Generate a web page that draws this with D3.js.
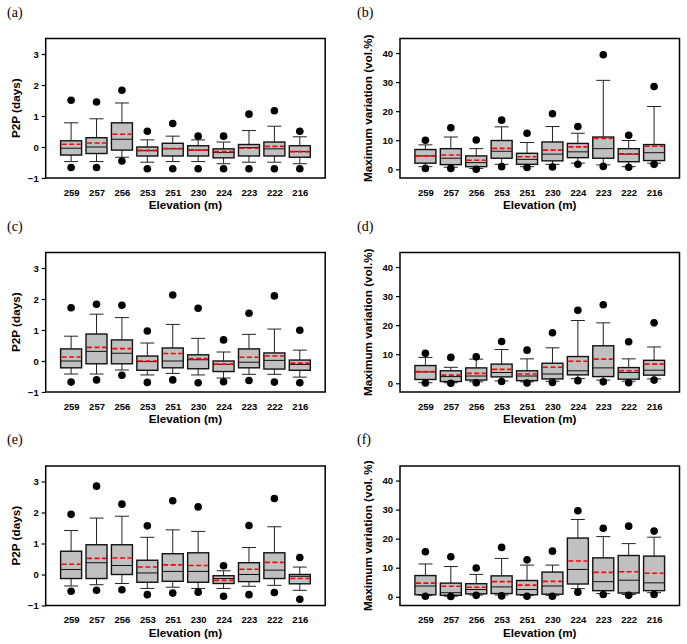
<!DOCTYPE html>
<html>
<head>
<meta charset="utf-8">
<script src="https://cdn.jsdelivr.net/npm/d3@7"></script>
<style>
  body { margin: 0; background: #fff; }
  svg text { font-family: "Liberation Sans", Arial, sans-serif; }
</style>
</head>
<body>
<script>
// categories (elevation, m)
var elevations = ["259", "257", "256", "253", "251", "230", "224", "223", "222", "216"];

// each row: [p5, p10, q1, median, q3, p90, p95, mean]
var p2pA = [
  [-0.66, -0.47, -0.26, -0.04, 0.20, 0.78, 1.51, 0.09],
  [-0.66, -0.47, -0.21, 0.00, 0.30, 0.91, 1.45, 0.13],
  [-0.45, -0.33, -0.10, 0.25, 0.78, 1.42, 1.83, 0.41],
  [-0.70, -0.49, -0.29, -0.12, 0.00, 0.23, 0.51, -0.11],
  [-0.70, -0.47, -0.29, -0.06, 0.12, 0.35, 0.76, -0.05],
  [-0.70, -0.47, -0.29, -0.10, 0.04, 0.23, 0.35, -0.10],
  [-0.70, -0.54, -0.35, -0.18, -0.06, 0.16, 0.35, -0.15],
  [-0.70, -0.49, -0.29, -0.02, 0.08, 0.53, 1.06, -0.04],
  [-0.70, -0.49, -0.29, -0.06, 0.16, 0.67, 1.17, 0.02],
  [-0.70, -0.54, -0.33, -0.15, 0.04, 0.33, 0.51, -0.15]
];
var maxVarB = [
  [0.3, 0.9, 2.1, 4.6, 6.8, 8.4, 10.0, 4.6],
  [0.3, 0.7, 1.6, 3.8, 7.1, 11.1, 14.3, 4.9],
  [0.0, 0.3, 0.9, 2.3, 4.6, 7.1, 10.1, 3.1],
  [0.9, 1.7, 3.8, 6.2, 9.9, 14.6, 16.9, 7.2],
  [0.6, 0.9, 1.7, 3.4, 5.5, 9.2, 12.4, 4.3],
  [0.8, 1.7, 2.9, 5.2, 9.4, 14.7, 19.1, 6.6],
  [1.7, 2.1, 4.0, 6.0, 8.9, 12.4, 14.7, 7.7],
  [1.0, 1.5, 3.8, 7.1, 11.1, 30.6, 39.4, 10.6],
  [0.7, 0.9, 2.6, 5.2, 7.1, 9.9, 11.7, 5.3],
  [1.7, 2.1, 3.0, 5.7, 8.5, 21.6, 28.5, 7.9]
];
var p2pC = [
  [-0.68, -0.42, -0.22, 0.00, 0.39, 0.80, 1.72, 0.13],
  [-0.61, -0.42, -0.09, 0.31, 0.87, 1.51, 1.83, 0.44],
  [-0.46, -0.29, -0.09, 0.25, 0.68, 1.40, 1.80, 0.40],
  [-0.69, -0.45, -0.30, -0.02, 0.16, 0.58, 0.97, 0.00],
  [-0.61, -0.40, -0.22, 0.00, 0.42, 1.18, 2.13, 0.24],
  [-0.70, -0.45, -0.25, 0.04, 0.20, 0.73, 1.70, 0.08],
  [-0.67, -0.55, -0.34, -0.11, 0.00, 0.29, 0.68, -0.10],
  [-0.63, -0.43, -0.22, -0.04, 0.39, 0.86, 1.54, 0.12],
  [-0.68, -0.43, -0.26, 0.02, 0.26, 1.03, 2.10, 0.16],
  [-0.70, -0.52, -0.30, -0.11, 0.03, 0.35, 0.99, -0.07]
];
var maxVarD = [
  [0.1, 0.2, 1.3, 3.9, 6.1, 8.9, 10.3, 4.0],
  [0.0, 0.2, 0.6, 2.3, 4.3, 5.5, 8.9, 2.8],
  [0.2, 0.5, 1.1, 2.5, 5.3, 8.3, 9.1, 3.4],
  [0.6, 0.8, 2.2, 3.7, 6.6, 11.6, 14.4, 4.8],
  [0.1, 0.5, 0.9, 2.5, 4.3, 8.4, 11.4, 3.2],
  [0.3, 0.7, 1.5, 3.2, 6.9, 12.2, 17.4, 5.5],
  [0.9, 1.6, 2.9, 4.3, 9.2, 21.6, 25.1, 7.6],
  [0.5, 1.1, 2.3, 5.3, 12.9, 20.8, 27.0, 8.3],
  [0.2, 0.7, 1.4, 3.7, 5.4, 8.4, 14.3, 4.3],
  [1.1, 1.5, 2.8, 4.5, 7.9, 12.5, 20.8, 6.6]
];
var p2pE = [
  [-0.54, -0.37, -0.13, 0.16, 0.75, 1.42, 1.94, 0.33],
  [-0.51, -0.33, -0.13, 0.38, 0.96, 1.82, 2.85, 0.52],
  [-0.49, -0.29, 0.00, 0.29, 0.96, 1.88, 2.27, 0.53],
  [-0.65, -0.45, -0.25, 0.05, 0.46, 1.20, 1.57, 0.24],
  [-0.60, -0.41, -0.22, 0.10, 0.67, 1.44, 2.38, 0.31],
  [-0.57, -0.45, -0.25, 0.10, 0.70, 1.39, 2.18, 0.29],
  [-0.70, -0.45, -0.29, -0.13, -0.04, 0.12, 0.28, -0.19],
  [-0.65, -0.38, -0.23, 0.00, 0.38, 0.87, 1.58, 0.17],
  [-0.58, -0.35, -0.13, 0.14, 0.70, 1.54, 2.45, 0.39],
  [-0.80, -0.51, -0.30, -0.06, 0.00, 0.24, 0.55, -0.13]
];
var maxVarF = [
  [0.2, 0.5, 0.7, 3.7, 7.3, 11.3, 15.5, 4.7],
  [0.1, 0.2, 0.5, 1.4, 4.7, 10.4, 13.8, 3.6],
  [0.5, 0.6, 1.0, 2.5, 4.5, 7.7, 9.9, 3.3],
  [0.3, 0.6, 1.1, 3.4, 7.2, 13.2, 17.0, 5.2],
  [0.2, 0.5, 0.7, 2.5, 5.6, 10.9, 12.7, 4.0],
  [0.2, 0.5, 0.9, 3.7, 8.5, 10.9, 15.7, 5.3],
  [1.6, 2.8, 4.4, 9.4, 20.2, 26.6, 29.6, 12.3],
  [0.8, 1.1, 2.1, 5.2, 13.4, 20.7, 23.6, 8.4],
  [0.5, 0.8, 1.3, 5.7, 14.2, 18.3, 24.3, 8.6],
  [0.8, 1.4, 2.1, 4.8, 14.0, 20.5, 22.6, 8.1]
];

var p2pTicks = [-1, 0, 1, 2, 3];
var maxVarTicks = [0, 10, 20, 30, 40];

var W = 687, H = 644;
var svg = d3.select("body").append("svg")
    .attr("width", W)
    .attr("height", H);

var colX = [45.7, 400],
    rowY = [38.5, 252.5, 466],
    pw = 279.5,
    ph = 139.5;

var panels = [
  {tag: "(a)", data: p2pA, col: 0, row: 0, kind: "p2p"},
  {tag: "(b)", data: maxVarB, col: 1, row: 0, kind: "mv", ylab: "Maximum variation (vol.%)"},
  {tag: "(c)", data: p2pC, col: 0, row: 1, kind: "p2p"},
  {tag: "(d)", data: maxVarD, col: 1, row: 1, kind: "mv", ylab: "Maximum variation (vol.%)"},
  {tag: "(e)", data: p2pE, col: 0, row: 2, kind: "p2p"},
  {tag: "(f)", data: maxVarF, col: 1, row: 2, kind: "mv", ylab: "Maximum variation (vol. %)"}
];

panels.forEach(function(p) {
  var x0 = colX[p.col], y0 = rowY[p.row];
  var g = svg.append("g").attr("transform", "translate(" + x0 + "," + y0 + ")");

  var x = d3.scalePoint().domain(elevations).range([0, pw]).padding(1);
  var y = d3.scaleLinear().range([ph, 0]);
  var ticks;
  if (p.kind === "p2p") { y.domain([-1, 3.5]); ticks = p2pTicks; }
  else { y.domain([-3, 45]); ticks = maxVarTicks; }

  var boxW = 21, capW = 14;

  // panel tag
  svg.append("text")
      .attr("x", p.col === 0 ? 7 : 357)
      .attr("y", y0 - 22)
      .style("font-family", "'Liberation Serif', 'Times New Roman', serif")
      .style("font-size", "14px")
      .text(p.tag);

  var items = g.selectAll(".item").data(p.data).enter().append("g")
      .attr("transform", function(d, i) { return "translate(" + x(elevations[i]) + ",0)"; });

  // whiskers
  items.append("line").attr("x1", 0).attr("x2", 0)
      .attr("y1", function(d) { return y(d[4]); }).attr("y2", function(d) { return y(d[5]); })
      .attr("stroke", "#222").attr("stroke-width", 1);
  items.append("line").attr("x1", 0).attr("x2", 0)
      .attr("y1", function(d) { return y(d[2]); }).attr("y2", function(d) { return y(d[1]); })
      .attr("stroke", "#222").attr("stroke-width", 1);
  items.append("line").attr("x1", -capW / 2).attr("x2", capW / 2)
      .attr("y1", function(d) { return y(d[5]); }).attr("y2", function(d) { return y(d[5]); })
      .attr("stroke", "#222").attr("stroke-width", 1);
  items.append("line").attr("x1", -capW / 2).attr("x2", capW / 2)
      .attr("y1", function(d) { return y(d[1]); }).attr("y2", function(d) { return y(d[1]); })
      .attr("stroke", "#222").attr("stroke-width", 1);

  // box
  items.append("rect")
      .attr("x", -boxW / 2).attr("width", boxW)
      .attr("y", function(d) { return y(d[4]); })
      .attr("height", function(d) { return y(d[2]) - y(d[4]); })
      .attr("fill", "#c0c0c0").attr("stroke", "#111").attr("stroke-width", 1.4);

  // median
  items.append("line").attr("x1", -boxW / 2).attr("x2", boxW / 2)
      .attr("y1", function(d) { return y(d[3]); }).attr("y2", function(d) { return y(d[3]); })
      .attr("stroke", "#111").attr("stroke-width", 1);

  // mean
  items.append("line").attr("x1", -boxW / 2 + 1).attr("x2", boxW / 2 - 1)
      .attr("y1", function(d) { return y(d[7]); }).attr("y2", function(d) { return y(d[7]); })
      .attr("stroke", "#ff0000").attr("stroke-width", 1.6)
      .attr("stroke-dasharray", "5,2.5");

  // 5th / 95th percentile points
  items.append("circle").attr("cx", 0).attr("cy", function(d) { return y(d[0]); })
      .attr("r", 3.8).attr("fill", "#000");
  items.append("circle").attr("cx", 0).attr("cy", function(d) { return y(d[6]); })
      .attr("r", 3.8).attr("fill", "#000");

  // frame
  g.append("rect").attr("width", pw).attr("height", ph)
      .attr("fill", "none").attr("stroke", "#000").attr("stroke-width", 1.5);

  // y axis
  var yAxis = g.append("g")
      .call(d3.axisLeft(y).tickValues(ticks).tickFormat(d3.format("d")).tickSize(4).tickPadding(3));
  yAxis.select(".domain").remove();
  yAxis.selectAll("line").attr("stroke", "#000").attr("stroke-width", 1.2);
  yAxis.selectAll("text")
      .style("font-size", "9.5px").style("font-weight", "bold").attr("fill", "#000");

  // x labels
  var xAxis = g.append("g").attr("transform", "translate(0," + ph + ")")
      .call(d3.axisBottom(x).tickSize(0).tickPadding(11));
  xAxis.select(".domain").remove();
  xAxis.selectAll("text")
      .style("font-size", "9.5px").style("font-weight", "bold").attr("fill", "#000");

  // axis titles
  g.append("text")
      .attr("x", pw / 2).attr("y", ph + 31)
      .style("text-anchor", "middle")
      .style("font-size", "11.7px").style("font-weight", "bold")
      .text("Elevation (m)");

  g.append("text")
      .attr("transform", "rotate(-90)")
      .attr("x", -ph / 2)
      .attr("y", p.kind === "p2p" ? -26 : -28)
      .style("text-anchor", "middle")
      .style("font-size", "11.7px").style("font-weight", "bold")
      .text(p.kind === "p2p" ? "P2P (days)" : p.ylab);
});
</script>
</body>
</html>
